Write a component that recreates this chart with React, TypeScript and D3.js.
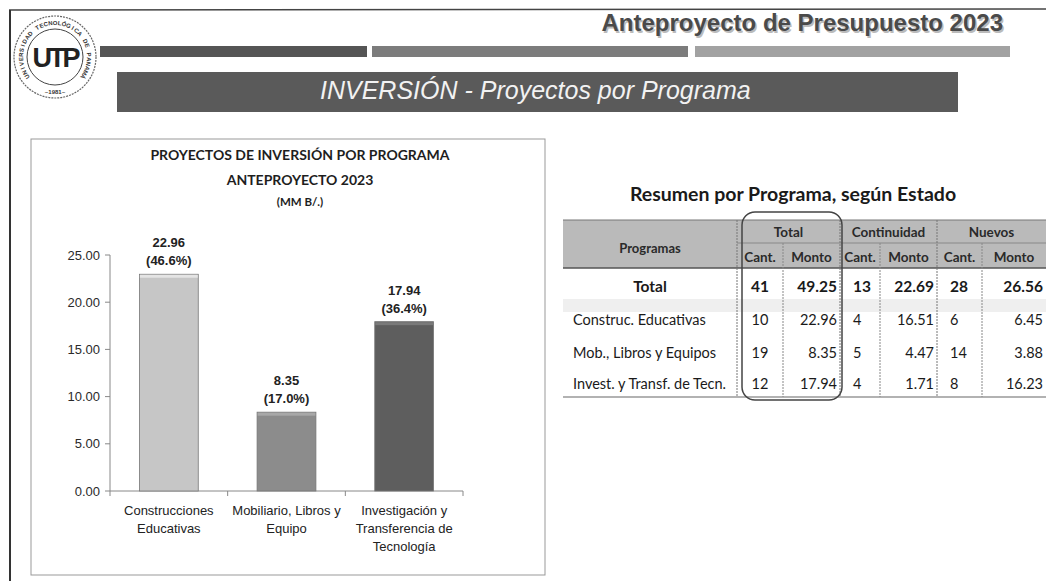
import React from "react";
import * as d3 from "d3";

// ---- Chart data ----
const categories = ["Construcciones Educativas", "Mobiliario, Libros y Equipo", "Investigación y Transferencia de Tecnología"];
const categoryLines = [["Construcciones", "Educativas"], ["Mobiliario, Libros y", "Equipo"], ["Investigación y", "Transferencia de", "Tecnología"]];
const values = [22.96, 8.35, 17.94];
const percents = ["46.6%", "17.0%", "36.4%"];
const yTicks = [0, 5, 10, 15, 20, 25];
const barColors = ["#c6c6c6", "#8c8c8c", "#5e5e5e"];
const barTopColors = ["#e4e4e4", "#a8a8a8", "#7a7a7a"];

// ---- Table data ----
const programs = ["Total", "Construc. Educativas", "Mob., Libros y Equipos", "Invest. y Transf. de Tecn."];
const totalCant = [41, 10, 19, 12];
const totalMonto = [49.25, 22.96, 8.35, 17.94];
const contCant = [13, 4, 5, 4];
const contMonto = [22.69, 16.51, 4.47, 1.71];
const nuevCant = [28, 6, 14, 8];
const nuevMonto = [26.56, 6.45, 3.88, 16.23];
const groupHeaders = ["Total", "Continuidad", "Nuevos"];
const subHeaders = ["Cant.", "Monto", "Cant.", "Monto", "Cant.", "Monto"];

const logoRing = "UNIVERSIDAD TECNOLÓGICA DE PANAMÁ";

const ARIAL = "'Liberation Sans', Arial, sans-serif";
const CAL = "Lato, 'Open Sans', sans-serif";

export default function App() {
  const x = d3.scaleBand<string>().domain(categories).range([110, 463]).paddingInner(0.5).paddingOuter(0.25);
  const y = d3.scaleLinear().domain([0, 25]).range([491, 255]);
  const fmt = d3.format(".2f");
  const catTicks = [110, ...categories.map((c) => (x(c) as number) + x.bandwidth() + (x.step() * x.paddingInner()) / 2)];

  // table geometry
  const colX = [563, 737, 783, 840, 880, 937, 982, 1046];
  const rowY = [287, 320, 353, 384];
  const cols = [totalCant, totalMonto, contCant, contMonto, nuevCant, nuevMonto];

  // logo ring letters
  const chars = logoRing.split("");
  const angScale = d3.scaleLinear().domain([0, chars.length - 1]).range([-125, 125]);

  return (
    <svg width={1046} height={581} style={{ position: "absolute", left: 0, top: 0, background: "#fff" }}>
      <rect x={0} y={0} width={1046} height={581} fill="#ffffff" />
      {/* slide frame */}
      <line x1={9} y1={10} x2={1046} y2={9} stroke="#444" strokeWidth={1.5} />
      <line x1={10} y1={10} x2={10} y2={581} stroke="#333" strokeWidth={2} />

      {/* logo */}
      <g>
        <circle cx={55} cy={57} r={41} fill="#fff" stroke="#666" strokeWidth={1.2} strokeDasharray="2 1" />
        {chars.map((ch, i) => {
          const a = angScale(i);
          const rad = ((a - 90) * Math.PI) / 180;
          const cx = 55 + 34 * Math.cos(rad);
          const cy = 57 + 34 * Math.sin(rad);
          return (
            <text key={i} x={cx} y={cy + 2} textAnchor="middle" fontFamily={ARIAL} fontSize={6} fontWeight="bold" fill="#333" transform={`rotate(${a} ${cx} ${cy})`}>{ch}</text>
          );
        })}
        <circle cx={55} cy={57} r={28} fill="none" stroke="#444" strokeWidth={1} />
        <text x={55} y={67} textAnchor="middle" fontFamily={ARIAL} fontSize={27} fontWeight="bold" fill="#222" letterSpacing={-3}>UTP</text>
        <text x={55} y={94} textAnchor="middle" fontFamily={ARIAL} fontSize={6} fontWeight="bold" fill="#333">~1981~</text>
      </g>

      {/* header */}
      <text x={1003} y={31} textAnchor="end" fontFamily={ARIAL} fontSize={24} fontWeight="bold" fill="#bbb" transform="translate(1.5,1.5)">Anteproyecto de Presupuesto 2023</text>
      <text x={1003} y={31} textAnchor="end" fontFamily={ARIAL} fontSize={24} fontWeight="bold" fill="#4a4a4a">Anteproyecto de Presupuesto 2023</text>
      <rect x={100} y={46} width={267} height={11} fill="#555" />
      <rect x={372} y={46} width={316} height={11} fill="#7c7c7c" />
      <rect x={695} y={46} width={315} height={11} fill="#a2a2a2" />
      <rect x={117} y={72} width={841} height={40} fill="#5a5a5a" />
      <text x={320} y={99} fontFamily={ARIAL} fontSize={25} fontStyle="italic" fill="#f2f2f2">INVERSIÓN - Proyectos por Programa</text>

      {/* chart box */}
      <rect x={31} y={139} width={514} height={436} fill="#fff" stroke="#999" strokeWidth={1} />
      <text x={300} y={160} textAnchor="middle" fontFamily={CAL} fontSize={14} fontWeight="bold" fill="#1e1e1e">PROYECTOS DE INVERSIÓN POR PROGRAMA</text>
      <text x={300} y={185} textAnchor="middle" fontFamily={CAL} fontSize={14} fontWeight="bold" fill="#1e1e1e">ANTEPROYECTO 2023</text>
      <text x={300} y={206} textAnchor="middle" fontFamily={CAL} fontSize={11.5} fontWeight="bold" fill="#1e1e1e">(MM B/.)</text>

      {/* y axis */}
      <line x1={110} y1={y(25)} x2={110} y2={y(0)} stroke="#888" />
      {yTicks.map((t) => (
        <g key={t}>
          <line x1={105} x2={110} y1={y(t)} y2={y(t)} stroke="#888" />
          <text x={100} y={y(t) + 4.5} textAnchor="end" fontFamily={ARIAL} fontSize={13} fill="#2a2a2a">{fmt(t)}</text>
        </g>
      ))}
      {/* x axis */}
      <line x1={110} x2={463} y1={y(0)} y2={y(0)} stroke="#888" />
      {catTicks.map((t, i) => (
        <line key={i} x1={t} x2={t} y1={y(0)} y2={y(0) + 5} stroke="#888" />
      ))}

      {/* bars */}
      {categories.map((c, i) => {
        const bx = x(c) as number;
        const bw = x.bandwidth();
        const top = y(values[i]);
        return (
          <g key={c}>
            <rect x={bx} y={top} width={bw} height={y(0) - top} fill={barColors[i]} stroke="#777" strokeWidth={0.8} />
            <rect x={bx + 0.5} y={top + 0.5} width={bw - 1} height={3} fill={barTopColors[i]} />
            <text x={bx + bw / 2} y={top - 27} textAnchor="middle" fontFamily={ARIAL} fontSize={13} fontWeight="bold" fill="#222">{fmt(values[i])}</text>
            <text x={bx + bw / 2} y={top - 9} textAnchor="middle" fontFamily={ARIAL} fontSize={13} fontWeight="bold" fill="#222">({percents[i]})</text>
            {categoryLines[i].map((ln, j) => (
              <text key={j} x={bx + bw / 2} y={515 + j * 18} textAnchor="middle" fontFamily={ARIAL} fontSize={13} fill="#222">{ln}</text>
            ))}
          </g>
        );
      })}

      {/* table */}
      <text x={793} y={201} textAnchor="middle" fontFamily={CAL} fontSize={19.5} fontWeight="bold" fill="#1a1a1a">Resumen por Programa, según Estado</text>
      <rect x={colX[0]} y={220} width={colX[7] - colX[0]} height={48} fill="#bababa" />
      <line x1={colX[0]} x2={1046} y1={220} y2={220} stroke="#777" strokeWidth={1} />
      <line x1={colX[0]} x2={1046} y1={268} y2={268} stroke="#555" strokeWidth={1.5} />
      <line x1={colX[1]} x2={1046} y1={243} y2={243} stroke="#888" strokeWidth={1} />
      <rect x={colX[0]} y={299} width={colX[7] - colX[0]} height={13} fill="#efefef" />
      <line x1={colX[0]} x2={1046} y1={397} y2={397} stroke="#666" strokeWidth={1.2} />
      {/* vertical separators */}
      {[1, 3, 5].map((k) => (
        <line key={"g" + k} x1={colX[k]} x2={colX[k]} y1={220} y2={397} stroke="#777" strokeWidth={1} strokeDasharray={"2 1"} />
      ))}
      {[2, 4, 6].map((k) => (
        <line key={"s" + k} x1={colX[k]} x2={colX[k]} y1={243} y2={397} stroke="#888" strokeWidth={1} strokeDasharray={"2 1"} />
      ))}
      <text x={650} y={253} textAnchor="middle" fontFamily={CAL} fontSize={13} fontWeight="bold" fill="#2a2a2a">Programas</text>
      {groupHeaders.map((g, i) => (
        <text key={g} x={(colX[1 + i * 2] + colX[3 + i * 2]) / 2} y={237} textAnchor="middle" fontFamily={CAL} fontSize={13.5} fontWeight="bold" fill="#2a2a2a">{g}</text>
      ))}
      {subHeaders.map((s, i) => (
        <text key={i} x={(colX[1 + i] + colX[2 + i]) / 2} y={262} textAnchor="middle" fontFamily={CAL} fontSize={13.5} fontWeight="bold" fill="#2a2a2a">{s}</text>
      ))}
      {programs.map((p, r) => (
        <g key={p}>
          <text x={r === 0 ? 650 : 573} y={rowY[r] + 5} textAnchor={r === 0 ? "middle" : "start"} fontFamily={CAL} fontSize={r === 0 ? 15.5 : 14.5} fontWeight={r === 0 ? "bold" : "normal"} fill="#1a1a1a">{p}</text>
          {cols.map((col, c) => {
            const isMonto = c % 2 === 1;
            const tx = isMonto ? colX[c + 2] - 3 : c === 0 ? (colX[1] + colX[2]) / 2 : colX[c + 1] + 13;
            return (
              <text key={c} x={tx} y={rowY[r] + 5} textAnchor={isMonto ? "end" : c === 0 ? "middle" : "start"} fontFamily={CAL} fontSize={r === 0 ? 15.5 : 14.5} fontWeight={r === 0 ? "bold" : "normal"} fill="#1a1a1a">
                {isMonto ? fmt(col[r]) : col[r]}
              </text>
            );
          })}
        </g>
      ))}
      <rect x={742} y={212} width={100} height={188} rx={13} ry={13} fill="none" stroke="#444" strokeWidth={1.5} />
    </svg>
  );
}
